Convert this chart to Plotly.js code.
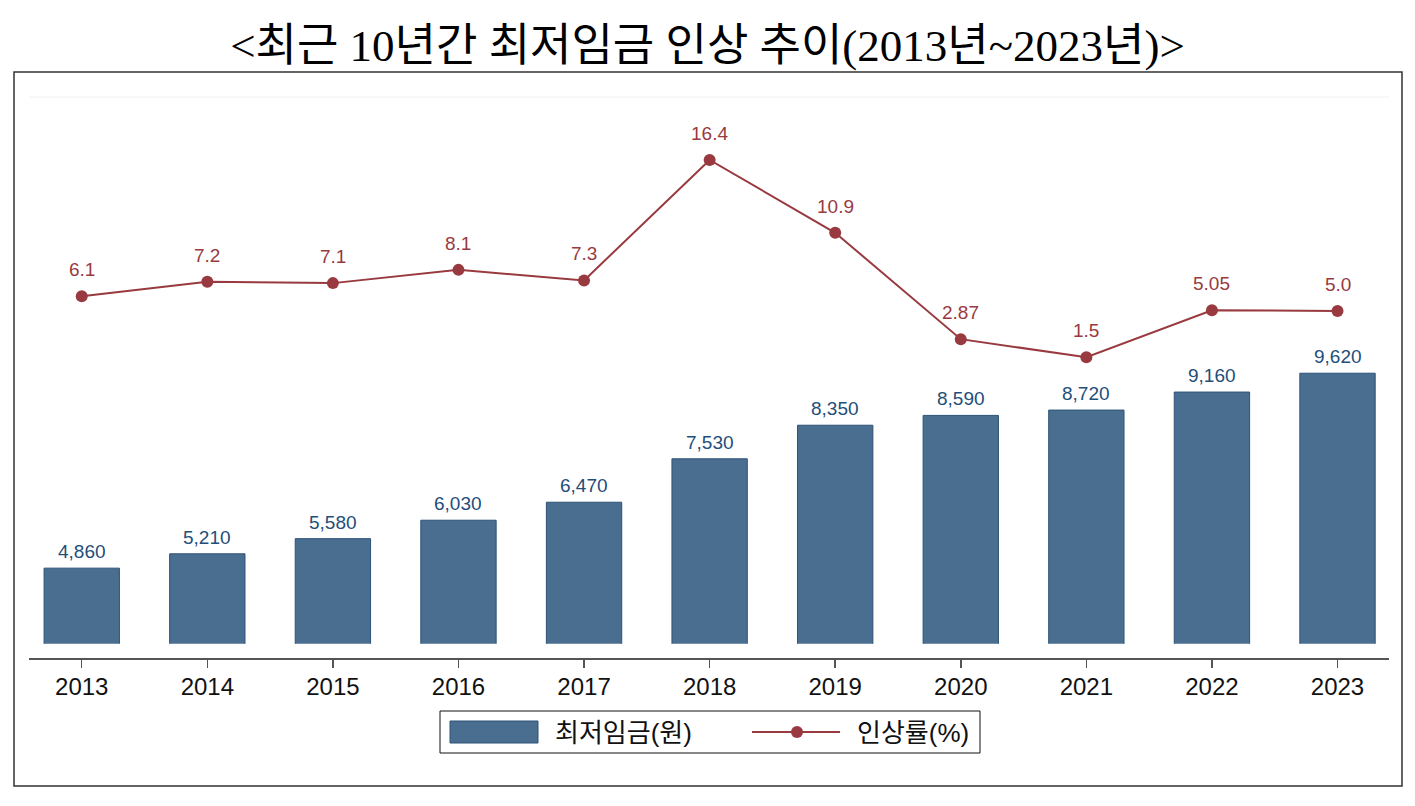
<!DOCTYPE html>
<html>
<head>
<meta charset="utf-8">
<script src="https://cdn.plot.ly/plotly-3.0.1.min.js"></script>
<style>
  html, body { margin: 0; padding: 0; background: #ffffff; }
  #chart { width: 1415px; height: 806px; }
</style>
</head>
<body>
<div id="chart"></div>
<script>
// Minimum wage (KRW per hour) and yearly raise rate, 2013–2023
const years = ['2013', '2014', '2015', '2016', '2017', '2018', '2019', '2020', '2021', '2022', '2023'];
const minWage = [4860, 5210, 5580, 6030, 6470, 7530, 8350, 8590, 8720, 9160, 9620];
const raiseRate = [6.1, 7.2, 7.1, 8.1, 7.3, 16.4, 10.9, 2.87, 1.5, 5.05, 5.0];
const seriesNames = ['최저임금(원)', '인상률(%)'];
const titleText = '&lt;최근 10년간 최저임금 인상 추이(2013년~2023년)&gt;';

const BAR_FILL = '#4a6e90';
const BAR_EDGE = '#2d5377';
const BAR_TEXT = '#1f4e79';
const LINE_COLOR = '#983a3f';
const LABEL_FONT = 'Liberation Sans, Arial, Noto Sans CJK KR, sans-serif';

// Plot-area geometry in pixels, used to place the frame and legend in paper units
const W = 1415, H = 806;
const M = { l: 29, r: 26, t: 97, b: 147 };
const plotW = W - M.l - M.r, plotH = H - M.t - M.b;
const px = v => (v - M.l) / plotW;
const py = v => (H - M.b - v) / plotH;

const fmtWage = v => v.toLocaleString('en-US');
const fmtRate = v => { const s = String(v); return s.includes('.') ? s : v.toFixed(1); };

const bars = {
  type: 'bar',
  name: seriesNames[0],
  x: years,
  y: minWage,
  width: 0.6,
  marker: { color: BAR_FILL, line: { color: BAR_EDGE, width: 1 } },
  yaxis: 'y',
  hoverinfo: 'x+y'
};

const rates = {
  type: 'scatter',
  mode: 'lines+markers',
  name: seriesNames[1],
  x: years,
  y: raiseRate,
  yaxis: 'y2',
  line: { color: LINE_COLOR, width: 2 },
  marker: { color: LINE_COLOR, size: 12 },
  hoverinfo: 'x+y'
};

// Value labels (category axis positions are addressed by index)
const annotations = [];
years.forEach((yr, i) => {
  annotations.push({
    x: i, y: minWage[i], xref: 'x', yref: 'y',
    text: fmtWage(minWage[i]), showarrow: false,
    yanchor: 'bottom', yshift: 4,
    font: { family: LABEL_FONT, size: 19, color: BAR_TEXT }
  });
  annotations.push({
    x: i, y: raiseRate[i], xref: 'x', yref: 'y2',
    text: fmtRate(raiseRate[i]), showarrow: false,
    yanchor: 'bottom', yshift: 14,
    font: { family: LABEL_FONT, size: 19, color: LINE_COLOR }
  });
});

// Legend text
annotations.push({
  xref: 'paper', yref: 'paper', x: px(553), y: py(733),
  xanchor: 'left', yanchor: 'middle', showarrow: false,
  text: seriesNames[0], font: { family: LABEL_FONT, size: 26, color: '#111111' }
});
annotations.push({
  xref: 'paper', yref: 'paper', x: px(855), y: py(733),
  xanchor: 'left', yanchor: 'middle', showarrow: false,
  text: seriesNames[1], font: { family: LABEL_FONT, size: 26, color: '#111111' }
});

const shapes = [
  // outer frame
  { type: 'rect', xref: 'paper', yref: 'paper',
    x0: px(14), x1: px(1402), y0: py(786), y1: py(72),
    line: { color: '#333333', width: 1.5 }, fillcolor: 'rgba(0,0,0,0)', layer: 'below' },
  // faint top gridline
  { type: 'line', xref: 'paper', yref: 'paper', x0: 0, x1: 1, y0: 1, y1: 1,
    line: { color: '#f0f0f0', width: 1 }, layer: 'below' },
  // legend box
  { type: 'rect', xref: 'paper', yref: 'paper',
    x0: px(440), x1: px(980), y0: py(753), y1: py(711),
    line: { color: '#111111', width: 1 }, fillcolor: '#ffffff' },
  // legend: bar swatch
  { type: 'rect', xref: 'paper', yref: 'paper',
    x0: px(450), x1: px(538), y0: py(743), y1: py(721),
    line: { color: BAR_EDGE, width: 1 }, fillcolor: BAR_FILL },
  // legend: line with marker
  { type: 'line', xref: 'paper', yref: 'paper',
    x0: px(752), x1: px(840), y0: py(732), y1: py(732),
    line: { color: LINE_COLOR, width: 2 } },
  { type: 'circle', xref: 'paper', yref: 'paper',
    x0: px(791), x1: px(803), y0: py(738), y1: py(726),
    line: { color: LINE_COLOR, width: 0 }, fillcolor: LINE_COLOR }
];

const layout = {
  width: W, height: H,
  margin: M,
  paper_bgcolor: '#ffffff',
  plot_bgcolor: '#ffffff',
  showlegend: false,
  title: {
    text: titleText,
    x: 0.5, xref: 'container', xanchor: 'center',
    y: 1 - 45 / H, yref: 'container', yanchor: 'middle',
    font: { family: 'Liberation Serif, Noto Sans CJK KR, serif', size: 45, color: '#000000' }
  },
  xaxis: {
    type: 'category',
    range: [-0.42, 10.41],
    anchor: 'free', position: 0,
    showline: true, linecolor: '#555555', linewidth: 2,
    ticks: 'outside', ticklen: 8, tickwidth: 1.5, tickcolor: '#555555',
    ticklabelstandoff: -2,
    tickfont: { family: LABEL_FONT, size: 24, color: '#111111' },
    showgrid: false, zeroline: false, fixedrange: true
  },
  yaxis: {
    domain: [0.027, 1],
    range: [3012, 16365],
    visible: false, showgrid: false, zeroline: false, fixedrange: true
  },
  yaxis2: {
    overlaying: 'y',
    range: [-20.13, 21.15],
    visible: false, showgrid: false, zeroline: false, fixedrange: true
  },
  annotations: annotations,
  shapes: shapes
};

Plotly.newPlot('chart', [bars, rates], layout, { displayModeBar: false, staticPlot: true });
</script>
</body>
</html>
